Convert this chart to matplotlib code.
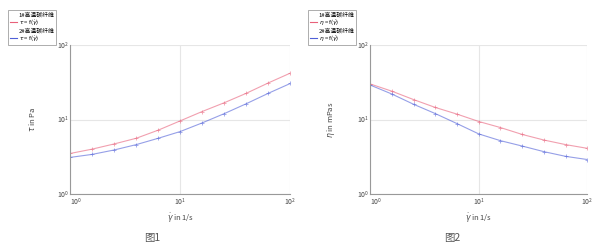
import matplotlib
matplotlib.use('Agg')
import matplotlib.pyplot as plt
from matplotlib.lines import Line2D

plt.rcParams['font.family'] = ['Noto Sans CJK SC', 'DejaVu Sans']

# shear rate points (1/s)
shear_rate = [1, 1.58, 2.51, 3.98, 6.31, 10, 15.8, 25.1, 39.8, 63.1, 100]

# shear stress in Pa
tau_sample1 = [3.5, 4.0, 4.7, 5.6, 7.2, 9.6, 12.8, 16.8, 22.5, 31, 42]
tau_sample2 = [3.1, 3.4, 3.9, 4.6, 5.6, 6.9, 9.0, 12.0, 16.3, 22.5, 30.5]

# viscosity in mPas
eta_sample1 = [30, 24, 18.5, 14.5, 11.8, 9.4, 7.8, 6.3, 5.3, 4.6, 4.1]
eta_sample2 = [29, 22, 16, 12, 8.8, 6.4, 5.2, 4.4, 3.7, 3.2, 2.9]

sample_names = ['1#高温碳纤维', '2#高温碳纤维']
captions = ['图1', '图2']

red = '#e8607a'
blue = '#5060d8'

fig = plt.figure(figsize=(6, 2.5), dpi=100)
ax1 = fig.add_axes([0.117, 0.224, 0.367, 0.596])
ax2 = fig.add_axes([0.617, 0.224, 0.362, 0.596])


def style_axis(ax, ylabel, func_label, y1, y2):
    ax.plot(shear_rate, y1, color=red, lw=0.8, alpha=0.6, marker='+', ms=2.5, mec=red, mew=0.6)
    ax.plot(shear_rate, y2, color=blue, lw=0.8, alpha=0.6, marker='+', ms=2.5, mec=blue, mew=0.6)
    ax.set_xscale('log')
    ax.set_yscale('log')
    ax.set_xlim(1, 100)
    ax.set_ylim(1, 100)
    ax.set_xticks([1, 10, 100])
    ax.set_yticks([1, 10, 100])
    ax.minorticks_off()
    ax.grid(True, color='#e6e6e6', lw=0.8)
    for s in ['top', 'right']:
        ax.spines[s].set_visible(False)
    for s in ['left', 'bottom']:
        ax.spines[s].set_color('#999999')
        ax.spines[s].set_linewidth(0.8)
    ax.tick_params(length=0, labelsize=5, colors='#444444', pad=1)
    ax.tick_params(axis='x', pad=2)
    # first x label sits just right of the origin, like the reference
    ax.get_xticklabels()[0].set_horizontalalignment('left')
    ax.set_xlabel('$\\dot{\\gamma}$ in 1/s', fontsize=5.5, color='#444444', labelpad=2)
    ax.set_ylabel(ylabel, fontsize=5.5, color='#444444', labelpad=14)

    blank = Line2D([], [], lw=0)
    handles = [blank, Line2D([], [], color=red, lw=0.8),
               blank, Line2D([], [], color=blue, lw=0.8)]
    labels = [sample_names[0], func_label, sample_names[1], func_label]
    leg = ax.legend(handles, labels, loc='lower right', bbox_to_anchor=(-0.05, 0.98),
                    fontsize=4.2, frameon=True, fancybox=False, handlelength=1.2,
                    handletextpad=0.3, borderpad=0.3, labelspacing=0.1)
    leg.get_frame().set_edgecolor('#888888')
    leg.get_frame().set_linewidth(0.6)


style_axis(ax1, '$\\tau$ in Pa', '$\\tau$ = f($\\dot{\\gamma}$)', tau_sample1, tau_sample2)
style_axis(ax2, '$\\eta$ in mPas', '$\\eta$ = f($\\dot{\\gamma}$)', eta_sample1, eta_sample2)

fig.text(0.253, 0.05, captions[0], fontsize=7.5, color='#555555', ha='center', va='center')
fig.text(0.753, 0.05, captions[1], fontsize=7.5, color='#555555', ha='center', va='center')

fig.savefig('out.png', dpi=100, facecolor='white')
